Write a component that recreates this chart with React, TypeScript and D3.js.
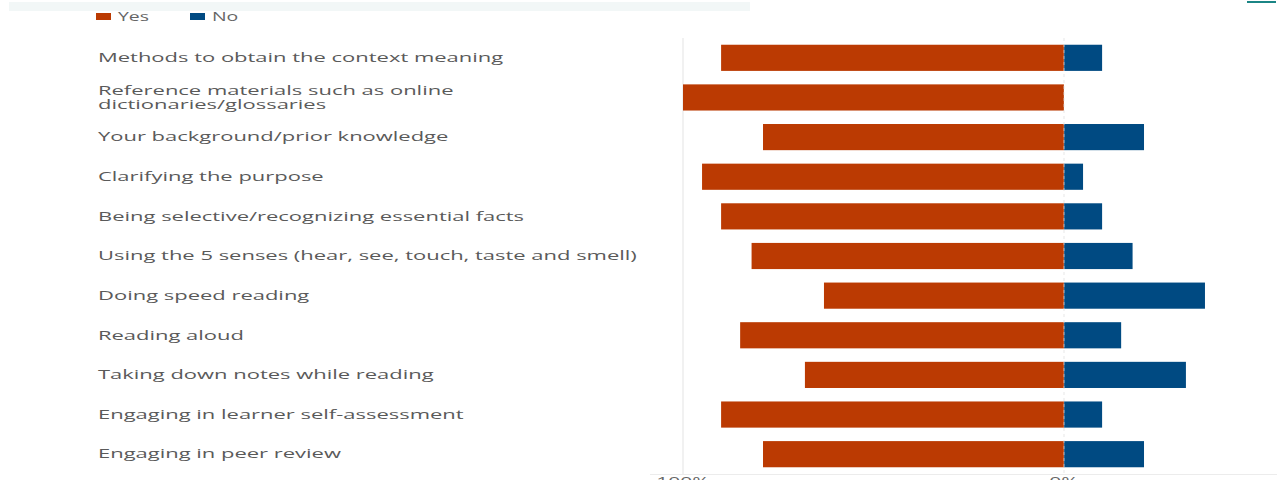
import React from "react";
import * as d3 from "d3";

const categories: string[][] = [
  ["Methods to obtain the context meaning"],
  ["Reference materials such as online", "dictionaries/glossaries"],
  ["Your background/prior knowledge"],
  ["Clarifying the purpose"],
  ["Being selective/recognizing essential facts"],
  ["Using the 5 senses (hear, see, touch, taste and smell)"],
  ["Doing speed reading"],
  ["Reading aloud"],
  ["Taking down notes while reading"],
  ["Engaging in learner self-assessment"],
  ["Engaging in peer review"],
];
const yesValues = [90, 100, 79, 95, 90, 82, 63, 85, 68, 90, 79];
const noValues = [10, 0, 21, 5, 10, 18, 37, 15, 32, 10, 21];
const seriesNames = ["Yes", "No"];
const seriesColors = ["#bb3a02", "#004a82"];
const tickValues = [-100, 0];
const tickLabels = ["100%", "0%"];

const W = 1277;
const H = 480;
const SX = 1.62; // horizontal text stretch seen in the reference
const SXL = 1.83;

export default function App() {
  const x = d3.scaleLinear().domain([-100, 0]).range([683, 1064]);
  const idx = categories.map((_, i) => String(i));
  const y = d3.scaleBand().domain(idx).range([38, 474]).paddingInner(0.34).paddingOuter(0.17);
  const bw = y.bandwidth();
  const font = "'Open Sans', 'DejaVu Sans', sans-serif";
  const labelColor = "#5a5a5a";

  return (
    <svg width={W} height={H} style={{ position: "absolute", left: 0, top: 0, background: "#fff" }}>
      {/* cropped header remnants */}
      <rect x={9} y={2} width={741} height={9} fill="#f2f7f7" />
      <line x1={1247} x2={1276} y1={2} y2={2} stroke="#1b8585" strokeWidth={2} />

      {/* legend */}
      {seriesNames.map((s, i) => (
        <g key={s} transform={`translate(${96 + i * 94},0)`}>
          <rect x={0} y={13} width={15} height={7} fill={seriesColors[i]} />
          <text x={0} y={0} transform={`translate(22,20.5) scale(${SX},1)`} fontFamily={font} fontSize={12} fill="#666">
            {s}
          </text>
        </g>
      ))}

      {/* grid */}
      <line x1={x(-100)} x2={x(-100)} y1={38} y2={474} stroke="#e3e3e3" strokeWidth={1} />
      <line x1={650} x2={W} y1={474.5} y2={474.5} stroke="#ececec" strokeWidth={1} />

      {/* bars */}
      {categories.map((c, i) => {
        const yy = y(String(i))!;
        return (
          <g key={i}>
            <rect x={x(-yesValues[i])} y={yy} width={x(0) - x(-yesValues[i])} height={bw} fill={seriesColors[0]} />
            {noValues[i] > 0 && (
              <rect x={x(0)} y={yy} width={x(noValues[i]) - x(0)} height={bw} fill={seriesColors[1]} />
            )}
          </g>
        );
      })}
      <line x1={x(0)} x2={x(0)} y1={38} y2={474} stroke="#d9d9d9" strokeWidth={1} strokeDasharray="3,3" opacity={0.6} />
      {categories.map((c, i) => {
        const yy = y(String(i))!;
        return (
          <line key={"z" + i} x1={x(0)} x2={x(0)} y1={yy} y2={yy + bw} stroke="#ffffff" strokeWidth={0.6} opacity={0.5} />
        );
      })}

      {/* category labels */}
      {categories.map((c, i) => {
        const cy = y(String(i))! + bw / 2;
        const n = c.length;
        return c.map((line, j) => (
          <text
            key={i + "-" + j}
            x={0}
            y={0}
            transform={`translate(98,${cy + 4.3 + (j - (n - 1) / 2) * 13.5}) scale(${SXL},1)`}
            fontFamily={font}
            fontSize={12}
            fill={labelColor}
          >
            {line}
          </text>
        ));
      })}

      {/* x tick labels */}
      {tickValues.map((t, i) => (
        <text
          key={t}
          x={0}
          y={0}
          transform={`translate(${x(t)},${486}) scale(${SX},1)`}
          textAnchor="middle"
          fontFamily={font}
          fontSize={13}
          fill="#666"
        >
          {tickLabels[i]}
        </text>
      ))}
    </svg>
  );
}
